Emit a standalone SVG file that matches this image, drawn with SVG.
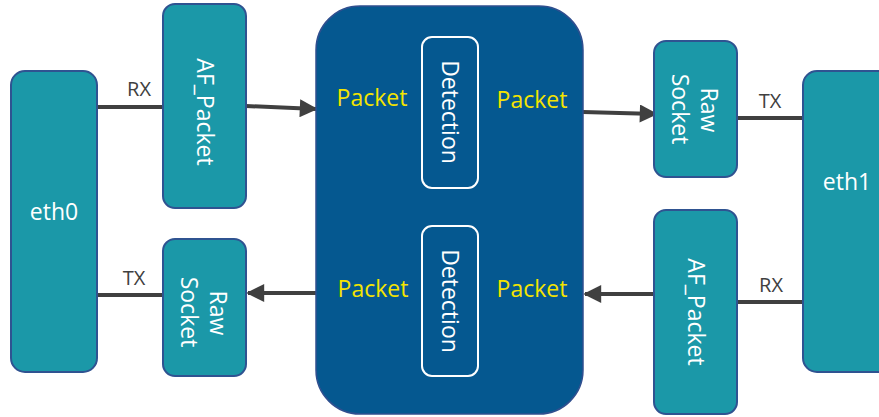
<svg xmlns="http://www.w3.org/2000/svg" width="879" height="417" viewBox="0 0 879 417">
<defs>
<style>
.teal{fill:#1b98a8;stroke:#2f5391;stroke-width:2}
.core{fill:#055890;stroke:#2f4f8f;stroke-width:1.5}
.det{fill:none;stroke:#ffffff;stroke-width:2}
.w{fill:#ffffff;font-family:"Open Sans","Liberation Sans",sans-serif;font-size:23px;text-anchor:middle}
.y{fill:#f4e400;font-family:"Open Sans","Liberation Sans",sans-serif;font-size:23px;text-anchor:middle}
.lbl{fill:#404040;font-family:"Open Sans","Liberation Sans",sans-serif;font-size:20px;text-anchor:middle}
.ln{stroke:#404040;stroke-width:4;fill:none}
</style>
<marker id="ah" viewBox="0 0 10 10" refX="9" refY="5" markerWidth="6.5" markerHeight="4.5" markerUnits="strokeWidth" orient="auto">
<path d="M0,0 L10,5 L0,10 z" fill="#404040"/>
</marker>
</defs>
<g id="connectors">
<line class="ln" x1="97" y1="107" x2="163" y2="107"/>
<line class="ln" x1="97" y1="295" x2="163" y2="295"/>
<line class="ln" x1="246" y1="106" x2="316" y2="109" marker-end="url(#ah)"/>
<line class="ln" x1="316" y1="293" x2="248" y2="293" marker-end="url(#ah)"/>
<line class="ln" x1="583" y1="112" x2="656" y2="114" marker-end="url(#ah)"/>
<line class="ln" x1="654" y1="294" x2="585" y2="294" marker-end="url(#ah)"/>
<line class="ln" x1="737" y1="118" x2="803" y2="118"/>
<line class="ln" x1="737" y1="302" x2="803" y2="302"/>
<text class="lbl" x="139" y="96">RX</text>
<text class="lbl" x="134" y="285">TX</text>
<text class="lbl" x="770" y="108">TX</text>
<text class="lbl" x="771" y="292">RX</text>
</g>
<g id="eth0">
<rect class="teal" x="11" y="71" width="86" height="301" rx="14"/>
<text class="w" x="54" y="220">eth0</text>
</g>
<g id="eth1">
<rect class="teal" x="803" y="71" width="90" height="301" rx="14"/>
<text class="w" x="847" y="190">eth1</text>
</g>
<g id="af_packet_left">
<rect class="teal" x="163" y="4" width="83" height="204" rx="12"/>
<text class="w" transform="translate(197,112) rotate(90)">AF_Packet</text>
</g>
<g id="raw_socket_left">
<rect class="teal" x="163" y="239" width="83" height="137" rx="12"/>
<text class="w" transform="translate(210,313) rotate(90)">Raw</text>
<text class="w" transform="translate(181,312) rotate(90)">Socket</text>
</g>
<g id="raw_socket_right">
<rect class="teal" x="654" y="41" width="83" height="136" rx="12"/>
<text class="w" transform="translate(701,110) rotate(90)">Raw</text>
<text class="w" transform="translate(672,109) rotate(90)">Socket</text>
</g>
<g id="af_packet_right">
<rect class="teal" x="654" y="210" width="83" height="204" rx="12"/>
<text class="w" transform="translate(688,312) rotate(90)">AF_Packet</text>
</g>
<g id="core">
<rect class="core" x="316" y="6" width="267" height="408" rx="44"/>
<text class="y" x="372" y="106">Packet</text>
<text class="y" x="532" y="108">Packet</text>
<text class="y" x="373" y="297">Packet</text>
<text class="y" x="532" y="297">Packet</text>
</g>
<g id="detection_top">
<rect class="det" x="422" y="37" width="56" height="151" rx="10"/>
<text class="w" transform="translate(442,112) rotate(90)">Detection</text>
</g>
<g id="detection_bottom">
<rect class="det" x="422" y="226" width="56" height="150" rx="10"/>
<text class="w" transform="translate(442,301) rotate(90)">Detection</text>
</g>
</svg>
